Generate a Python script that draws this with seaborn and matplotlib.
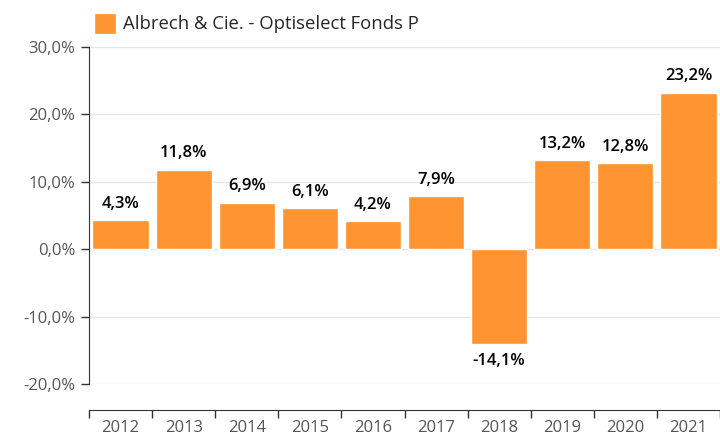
import matplotlib
matplotlib.use("Agg")
import matplotlib.pyplot as plt
import seaborn as sns
import pandas as pd
from matplotlib.ticker import FuncFormatter, FixedLocator

years = ['2012', '2013', '2014', '2015', '2016', '2017', '2018', '2019', '2020', '2021']
returns = [4.3, 11.8, 6.9, 6.1, 4.2, 7.9, -14.1, 13.2, 12.8, 23.2]
series_name = 'Albrech & Cie. - Optiselect Fonds P'
bar_color = '#FF9430'

df = pd.DataFrame({'year': years, 'ret': returns, 'fund': series_name})

sns.set_style('white')
plt.rcParams['font.family'] = ['Open Sans', 'DejaVu Sans']

fig = plt.figure(figsize=(7.2, 4.41), dpi=100)
ax = fig.add_axes([89 / 720, 1 - 384 / 441, 631 / 720, 337 / 441])

sns.barplot(data=df, x='year', y='ret', hue='fund', palette=[bar_color],
            width=0.89, saturation=1, ax=ax)

ax.set_ylim(-20, 30)
ax.set_xlim(-0.5, 9.5)
ax.set_yticks([-20, -10, 0, 10, 20, 30])
ax.yaxis.set_major_formatter(FuncFormatter(lambda v, p: f'{v:.1f}%'.replace('.', ',')))
ax.grid(axis='y', color='#e6e6e6', linewidth=1)
ax.set_axisbelow(True)

for s in ['top', 'right']:
    ax.spines[s].set_visible(False)
ax.spines['left'].set_color('#333333')
ax.spines['bottom'].set_color('#333333')
ax.spines['bottom'].set_position(('outward', 19))

ax.tick_params(axis='y', left=True, length=6, width=1, color='#333333',
               labelsize=12, labelcolor='#555555', pad=4)
ax.xaxis.set_major_locator(FixedLocator(range(10)))
ax.set_xticks([i - 0.5 for i in range(11)], minor=True)
ax.tick_params(axis='x', which='major', bottom=False, length=0,
               labelsize=12, labelcolor='#555555', pad=7)
ax.tick_params(axis='x', which='minor', bottom=True, length=6, width=1,
               color='#333333', direction='out')
ax.set_xlabel('')
ax.set_ylabel('')

for i, v in enumerate(returns):
    label = f'{v:.1f}%'.replace('.', ',')
    if v >= 0:
        ax.annotate(label, (i, v), xytext=(0, 6), textcoords='offset points',
                    ha='center', va='bottom', fontsize=12, color='black', fontweight='semibold')
    else:
        ax.annotate(label, (i, v), xytext=(0, -6), textcoords='offset points',
                    ha='center', va='top', fontsize=12, color='black', fontweight='semibold')

ax.legend(loc='lower left', bbox_to_anchor=(0.008, 1.04), frameon=False,
          handlelength=1.2, handleheight=1.35, handletextpad=0.35,
          borderaxespad=0, borderpad=0, fontsize=13.3)

fig.savefig('out.png', dpi=100)
